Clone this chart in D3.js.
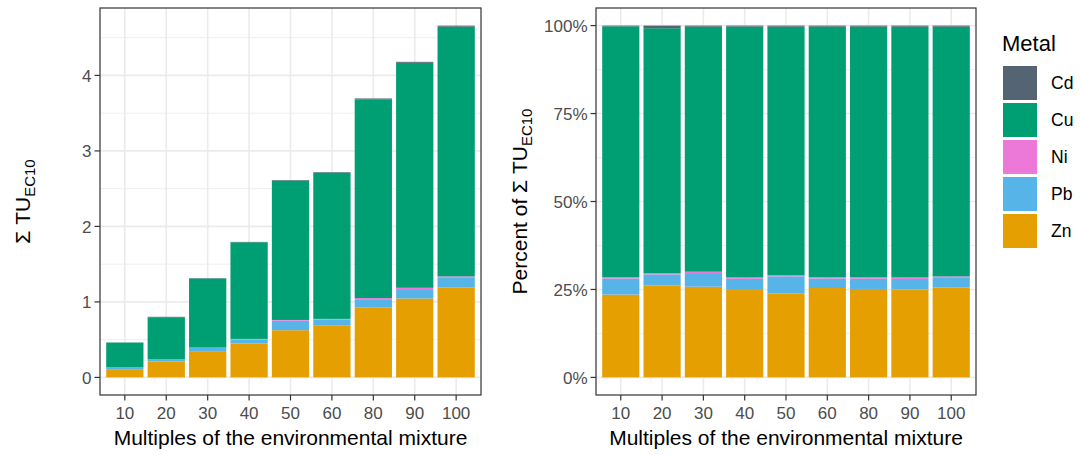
<!DOCTYPE html>
<html lang="en">
<head>
<meta charset="UTF-8">
<title>Toxic units by metal</title>
<script src="https://d3js.org/d3.v7.min.js"></script>
<style>
    body { margin: 0; background: #fff; }
    svg { display: block; font-family: "Liberation Sans", Arial, sans-serif; }
    .tick-label { fill: #4D4D4D; font-size: 17px; }
    .axis-title { fill: #000; font-size: 21px; }
</style>
</head>
<body>
<script>
// multiples of the environmental mixture
const categories = ["10", "20", "30", "40", "50", "60", "80", "90", "100"];
// legend order (top to bottom); stacking is the reverse
const metals = ["Cd", "Cu", "Ni", "Pb", "Zn"];
const metalColors = ["#556473", "#009E73", "#EC79D8", "#56B4E9", "#E69F00"];

// sum TU_EC10 per metal
const zn = [0.109, 0.210, 0.339, 0.451, 0.625, 0.691, 0.929, 1.045, 1.193];
const pb = [0.021, 0.025, 0.051, 0.052, 0.126, 0.073, 0.107, 0.125, 0.126];
const ni = [0.002, 0.003, 0.005, 0.007, 0.010, 0.011, 0.015, 0.017, 0.019];
const cu = [0.330, 0.559, 0.916, 1.280, 1.846, 1.937, 2.633, 2.980, 3.308];
const cd = [0.001, 0.006, 0.004, 0.005, 0.008, 0.008, 0.011, 0.013, 0.014];

const leftTicks = [0, 1, 2, 3, 4];
const rightTicks = [0, 0.25, 0.5, 0.75, 1];

const W = 1081, H = 455;
const svg = d3.select("body").append("svg").attr("width", W).attr("height", H);

const rows = categories.map((c, i) => ({
    cat: c, Zn: zn[i], Pb: pb[i], Ni: ni[i], Cu: cu[i], Cd: cd[i]
}));
const stackKeys = ["Zn", "Pb", "Ni", "Cu", "Cd"];
const color = d3.scaleOrdinal().domain(metals).range(metalColors);

function panel(opts) {
    const { left, right, top, bottom, series, yDomain, ticks, minor, fmt } = opts;
    const g = svg.append("g");

    const x = d3.scaleBand().domain(categories).range([left, right])
        .paddingInner(0.1).paddingOuter(0.15);
    const y = d3.scaleLinear().domain(yDomain).range([bottom, top]);

    // grid
    g.selectAll(".minor").data(minor).join("line")
        .attr("x1", left).attr("x2", right)
        .attr("y1", d => y(d)).attr("y2", d => y(d))
        .attr("stroke", "#EBEBEB").attr("stroke-width", 0.8);
    g.selectAll(".major").data(ticks).join("line")
        .attr("x1", left).attr("x2", right)
        .attr("y1", d => y(d)).attr("y2", d => y(d))
        .attr("stroke", "#EBEBEB").attr("stroke-width", 1.6);
    g.selectAll(".vgrid").data(categories).join("line")
        .attr("x1", d => x(d) + x.bandwidth() / 2).attr("x2", d => x(d) + x.bandwidth() / 2)
        .attr("y1", top).attr("y2", bottom)
        .attr("stroke", "#EBEBEB").attr("stroke-width", 1.6);

    // bars
    g.selectAll(".layer").data(series).join("g")
        .attr("fill", d => color(d.key))
        .selectAll("rect").data(d => d).join("rect")
        .attr("x", d => x(d.data.cat))
        .attr("width", x.bandwidth())
        .attr("y", d => y(d[1]))
        .attr("height", d => Math.max(0, y(d[0]) - y(d[1])));

    // border
    g.append("rect").attr("x", left).attr("y", top)
        .attr("width", right - left).attr("height", bottom - top)
        .attr("fill", "none").attr("stroke", "#333333").attr("stroke-width", 1.2);

    // y axis
    g.selectAll(".ytick").data(ticks).join("line")
        .attr("x1", left - 5.5).attr("x2", left)
        .attr("y1", d => y(d)).attr("y2", d => y(d))
        .attr("stroke", "#333333").attr("stroke-width", 1.2);
    g.selectAll(".ylab").data(ticks).join("text")
        .attr("class", "tick-label")
        .attr("x", left - 8.5).attr("y", d => y(d))
        .attr("dy", "0.36em").attr("text-anchor", "end")
        .text(fmt);

    // x axis
    g.selectAll(".xtick").data(categories).join("line")
        .attr("x1", d => x(d) + x.bandwidth() / 2).attr("x2", d => x(d) + x.bandwidth() / 2)
        .attr("y1", bottom).attr("y2", bottom + 5.5)
        .attr("stroke", "#333333").attr("stroke-width", 1.2);
    g.selectAll(".xlab").data(categories).join("text")
        .attr("class", "tick-label")
        .attr("x", d => x(d) + x.bandwidth() / 2).attr("y", 418.5)
        .attr("text-anchor", "middle")
        .text(d => d);

    g.append("text").attr("class", "axis-title")
        .attr("x", (left + right) / 2).attr("y", 445)
        .attr("text-anchor", "middle")
        .text("Multiples of the environmental mixture");

    // y title
    const t = g.append("text").attr("class", "axis-title")
        .attr("transform", `translate(${opts.titleX},${(top + bottom) / 2}) rotate(-90)`)
        .attr("text-anchor", "middle");
    t.append("tspan").text(opts.titlePrefix + "\u03A3 TU");
    t.append("tspan").attr("font-size", "15px").attr("dy", 5).text("EC10");
}

const stackAbs = d3.stack().keys(stackKeys)(rows);
const stackFill = d3.stack().keys(stackKeys).offset(d3.stackOffsetExpand)(rows);

const maxTotal = d3.max(stackAbs[stackAbs.length - 1], d => d[1]);
const pad = maxTotal * 0.05;

panel({
    left: 100, right: 481, top: 8, bottom: 395,
    series: stackAbs,
    yDomain: [-pad, maxTotal + pad],
    ticks: leftTicks,
    minor: [0.5, 1.5, 2.5, 3.5, 4.5],
    fmt: d => d3.format("d")(d),
    titleX: 30, titlePrefix: ""
});

panel({
    left: 596, right: 976, top: 8, bottom: 395,
    series: stackFill,
    yDomain: [-0.05, 1.05],
    ticks: rightTicks,
    minor: [0.125, 0.375, 0.625, 0.875],
    fmt: d => d3.format(".0%")(d),
    titleX: 527, titlePrefix: "Percent of "
});

// legend
const lg = svg.append("g");
lg.append("text").attr("x", 1002).attr("y", 51)
    .attr("font-size", "22px").attr("fill", "#000").text("Metal");
const item = lg.selectAll(".item").data(metals).join("g")
    .attr("transform", (d, i) => `translate(1003,${66 + i * 37})`);
item.append("rect").attr("width", 34).attr("height", 34)
    .attr("fill", d => color(d));
item.append("text").attr("x", 48).attr("y", 17).attr("dy", "0.36em")
    .attr("font-size", "17.5px").attr("fill", "#000").text(d => d);
</script>
</body>
</html>
